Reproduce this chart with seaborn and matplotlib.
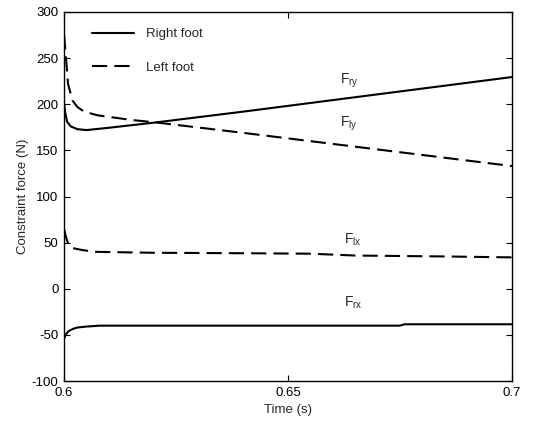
import numpy as np
import pandas as pd
import matplotlib
matplotlib.use("Agg")
import matplotlib.pyplot as plt
import seaborn as sns

# right foot, vertical force
t_ry = [0.600, 0.6003, 0.6007, 0.6015, 0.603, 0.605, 0.610, 0.620, 0.640, 0.660, 0.680, 0.700]
f_ry = [201, 190, 181, 176, 173, 172, 174.5, 180, 192, 204.5, 217, 229.5]

# left foot, vertical force
t_ly = [0.600, 0.6004, 0.6009, 0.6019, 0.603, 0.6045, 0.6075, 0.615, 0.621, 0.640, 0.660, 0.680, 0.700]
f_ly = [276, 253, 222, 204, 197, 192, 188, 183, 180, 169, 157, 145, 133]

# left foot, horizontal force
t_lx = [0.600, 0.6005, 0.601, 0.602, 0.604, 0.607, 0.620, 0.640, 0.655, 0.665, 0.685, 0.700]
f_lx = [65, 55, 48, 44, 42, 40, 39, 38.5, 38, 36, 35, 34]

# right foot, horizontal force
t_rx = [0.600, 0.6005, 0.601, 0.602, 0.603, 0.605, 0.608, 0.675, 0.676, 0.700]
f_rx = [-54, -49, -46, -43.5, -42, -41, -40, -40, -38.5, -38.5]

curve_names = ["ry", "ly", "lx", "rx"]
curve_feet = ["Right foot", "Left foot", "Left foot", "Right foot"]
label_pos = {"ry": (0.6615, 225), "ly": (0.6615, 179), "lx": (0.6625, 53), "rx": (0.6625, -15)}

xticks = [0.6, 0.65, 0.7]
xtick_labels = ["0.6", "0.65", "0.7"]
yticks = np.arange(-100, 301, 50)

frames = []
for name, foot, t, f in zip(curve_names, curve_feet,
                            [t_ry, t_ly, t_lx, t_rx], [f_ry, f_ly, f_lx, f_rx]):
    frames.append(pd.DataFrame({"t": t, "force": f, "curve": name, "foot": foot}))
df = pd.concat(frames, ignore_index=True)

sns.set_style("ticks")
plt.rcParams["font.family"] = ["Liberation Sans", "DejaVu Sans"]
plt.rcParams["mathtext.default"] = "regular"
plt.rcParams["axes.unicode_minus"] = False

fig = plt.figure(figsize=(5.46, 4.21), dpi=100)
ax = fig.add_axes([64 / 546, 1 - 381 / 421, 448 / 546, 369 / 421])

sns.lineplot(data=df, x="t", y="force", style="foot", units="curve", estimator=None,
             color="black", linewidth=1.5, sort=False,
             style_order=["Right foot", "Left foot"],
             dashes={"Right foot": "", "Left foot": (7.3, 3.4)}, ax=ax)

for name, (x, y) in label_pos.items():
    ax.text(x, y, r"$F_{%s}$" % name, fontsize=10, ha="left", va="center")

ax.set_xlim(0.6, 0.7)
ax.set_ylim(-100, 300)
ax.set_xticks(xticks)
ax.set_xticklabels(xtick_labels)
ax.set_yticks(yticks)
ax.tick_params(direction="in", length=4, width=0.8, top=True, right=True,
               labelsize=9.5, colors="black", pad=4)
for sp in ax.spines.values():
    sp.set_visible(True)
    sp.set_linewidth(1.0)
    sp.set_color("black")
ax.set_xlabel("Time (s)", fontsize=9.5, labelpad=4)
ax.set_ylabel("Constraint force (N)", fontsize=9.5, labelpad=2)

leg = ax.legend(loc="upper left", bbox_to_anchor=(0.0625, 0.956), frameon=False,
                fontsize=9.5, handlelength=3.2, handletextpad=0.9, labelspacing=1.6,
                borderpad=0, borderaxespad=0)

fig.savefig("out.png", dpi=100)
